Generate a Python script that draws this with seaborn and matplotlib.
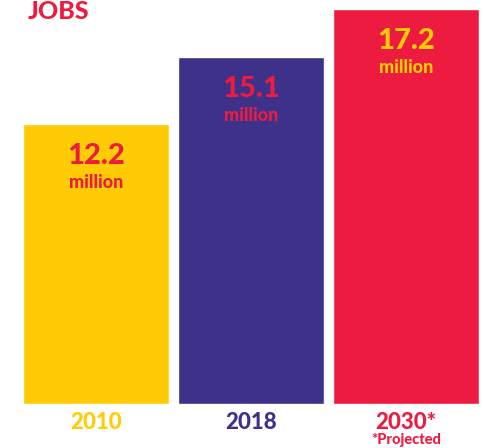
import matplotlib
matplotlib.use("Agg")
import matplotlib.pyplot as plt
import pandas as pd
import seaborn as sns

# data
years = ["2010", "2018", "2030*"]
jobs_millions = [12.2, 15.1, 17.2]
bar_colors = ["#FFCB05", "#3D3189", "#ED1B3F"]
value_colors = ["#ED1B3F", "#ED1B3F", "#FFCB05"]

df = pd.DataFrame({"year": years, "jobs": jobs_millions})

sns.set_style("white")
plt.rcParams["font.family"] = ["Lato", "DejaVu Sans"]

fig = plt.figure(figsize=(4.83, 4.48), dpi=100)
ax = fig.add_axes([18.5 / 483, 44 / 448, 465 / 483, 404 / 448])

sns.barplot(data=df, x="year", y="jobs", hue="year", palette=bar_colors,
            legend=False, width=0.942, saturation=1, ax=ax)

ax.set_xlim(-0.5, 2.5)
ax.set_ylim(0, 17.6)
sns.despine(ax=ax, left=True, bottom=True)
ax.set_yticks([])
ax.set_xlabel("")
ax.set_ylabel("")

# value labels inside the bars
for i, (v, c) in enumerate(zip(jobs_millions, value_colors)):
    ax.annotate(f"{v}", xy=(i, v), xytext=(0, -28.8), textcoords="offset points",
                ha="center", va="baseline", fontsize=21, fontweight="black", color=c)
    ax.annotate("million", xy=(i, v), xytext=(0, -46), textcoords="offset points",
                ha="center", va="baseline", fontsize=13, fontweight="black", color=c)

# coloured year labels
ax.tick_params(axis="x", length=0, pad=18)
for lbl, c in zip(ax.get_xticklabels(), bar_colors):
    lbl.set_color(c)
    lbl.set_fontsize(16)
    lbl.set_fontweight("black")
    lbl.set_va("baseline")

ax.annotate("*Projected", xy=(2, 0), xytext=(0, -29), textcoords="offset points",
            ha="center", va="baseline", fontsize=10.5, fontweight="black", color=bar_colors[2],
            annotation_clip=False)

fig.text(28 / 483, 1 - 19 / 448, "JOBS", ha="left", va="baseline",
         fontsize=18, fontweight="black", color="#ED1B3F")

fig.savefig("out.png", dpi=100)
